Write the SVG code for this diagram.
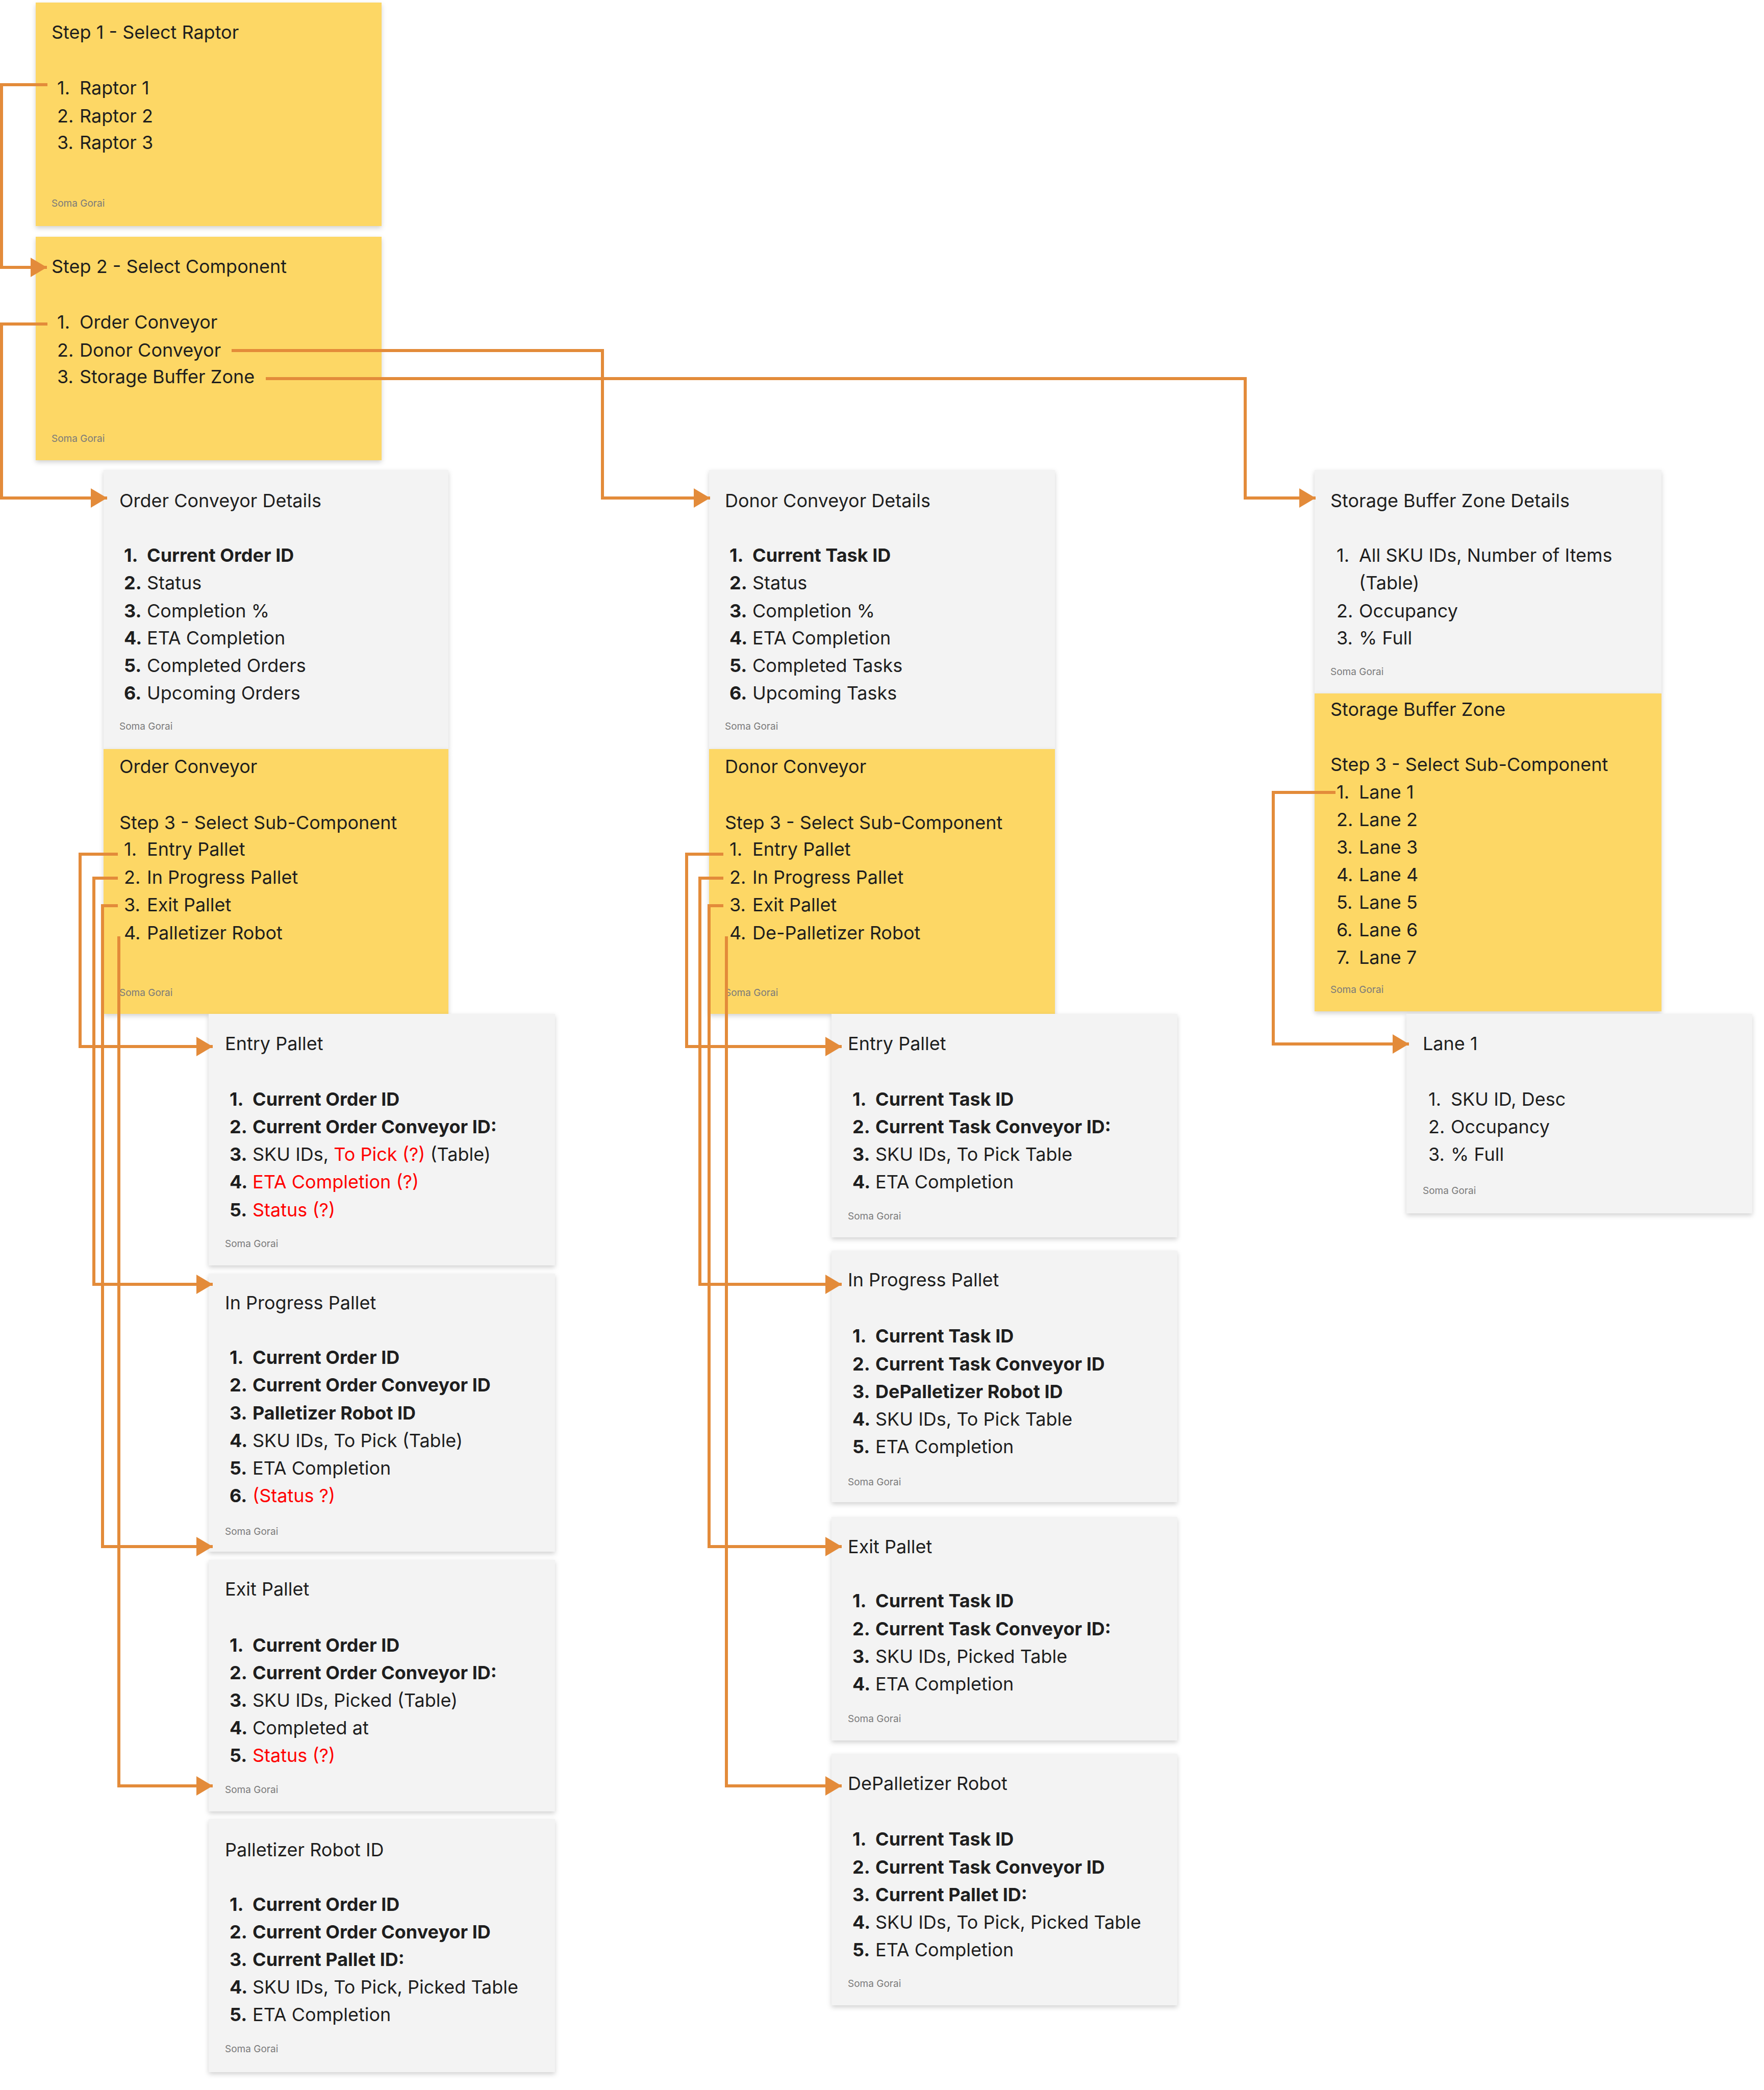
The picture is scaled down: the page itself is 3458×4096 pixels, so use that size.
<svg xmlns="http://www.w3.org/2000/svg" width="3458" height="4096" viewBox="0 0 3458 4096">
<style>
text{font-family:Inter,"Noto Sans","Liberation Sans",sans-serif;fill:#1e1e1e;font-size:36px}
.y{fill:#fdd765}.g{fill:#f3f3f3}
.f{font-size:19px;fill:#7a7a7a}
.b{font-weight:bold}.r{fill:#f00}
.c{fill:none;stroke:#e38b3a;stroke-width:6}
</style>
<defs>
<filter id="sh" x="-5%" y="-5%" width="110%" height="115%"><feDropShadow dx="0" dy="4" stdDeviation="5" flood-color="#000" flood-opacity="0.18"/></filter>
<marker id="a" markerUnits="userSpaceOnUse" markerWidth="32" markerHeight="38" viewBox="0 0 32 38" refX="32" refY="19" orient="auto"><path d="M0,0L32,19L0,38z" fill="#e38b3a"/></marker>
</defs>
<rect width="3458" height="4096" fill="#fff"/>

<g id="step1"><rect class="y" x="70" y="5" width="678" height="438" filter="url(#sh)"/>
<text x="101" y="76">Step 1 - Select Raptor</text>
<text x="112" y="185">1.</text><text x="156" y="185">Raptor 1</text>
<text x="112" y="240">2.</text><text x="156" y="240">Raptor 2</text>
<text x="112" y="292">3.</text><text x="156" y="292">Raptor 3</text>
<text class="f" x="101" y="405">Soma Gorai</text></g>

<g id="step2"><rect class="y" x="70" y="464" width="678" height="438" filter="url(#sh)"/>
<text x="101" y="535">Step 2 - Select Component</text>
<text x="112" y="644">1.</text><text x="156" y="644">Order Conveyor</text>
<text x="112" y="699">2.</text><text x="156" y="699">Donor Conveyor</text>
<text x="112" y="751">3.</text><text x="156" y="751">Storage Buffer Zone</text>
<text class="f" x="101" y="866">Soma Gorai</text></g>

<g id="orderDetails"><rect class="g" x="203" y="921" width="676" height="547" filter="url(#sh)"/>
<text x="234" y="994">Order Conveyor Details</text>
<g class="b"><text x="243" y="1101">1.</text><text x="243" y="1155">2.</text><text x="243" y="1210">3.</text><text x="243" y="1263">4.</text><text x="243" y="1317">5.</text><text x="243" y="1371">6.</text></g>
<text class="b" x="288" y="1101">Current Order ID</text>
<text x="288" y="1155">Status</text><text x="288" y="1210">Completion %</text><text x="288" y="1263">ETA Completion</text><text x="288" y="1317">Completed Orders</text><text x="288" y="1371">Upcoming Orders</text>
<text class="f" x="234" y="1430">Soma Gorai</text></g>

<g id="orderConveyor"><rect class="y" x="203" y="1468" width="676" height="519" filter="url(#sh)"/>
<text x="234" y="1515">Order Conveyor</text>
<text x="234" y="1625">Step 3 - Select Sub-Component</text>
<text x="243" y="1677">1.</text><text x="288" y="1677">Entry Pallet</text>
<text x="243" y="1732">2.</text><text x="288" y="1732">In Progress Pallet</text>
<text x="243" y="1786">3.</text><text x="288" y="1786">Exit Pallet</text>
<text x="243" y="1841">4.</text><text x="288" y="1841">Palletizer Robot</text>
<text class="f" x="234" y="1952">Soma Gorai</text></g>

<g id="oEntry"><rect class="g" x="409" y="1987" width="679" height="493" filter="url(#sh)"/>
<text x="441" y="2058">Entry Pallet</text>
<g class="b"><text x="450" y="2167">1.</text><text x="450" y="2221">2.</text><text x="450" y="2275">3.</text><text x="450" y="2329">4.</text><text x="450" y="2384">5.</text></g>
<text class="b" x="495" y="2167">Current Order ID</text>
<text class="b" x="495" y="2221">Current Order Conveyor ID:</text>
<text x="495" y="2275">SKU IDs, <tspan class="r">To Pick (?)</tspan> (Table)</text>
<text class="r" x="495" y="2329">ETA Completion (?)</text>
<text class="r" x="495" y="2384">Status (?)</text>
<text class="f" x="441" y="2444">Soma Gorai</text></g>

<g id="oProgress"><rect class="g" x="409" y="2496" width="679" height="545" filter="url(#sh)"/>
<text x="441" y="2566">In Progress Pallet</text>
<g class="b"><text x="450" y="2673">1.</text><text x="450" y="2727">2.</text><text x="450" y="2782">3.</text><text x="450" y="2836">4.</text><text x="450" y="2890">5.</text><text x="450" y="2944">6.</text></g>
<text class="b" x="495" y="2673">Current Order ID</text>
<text class="b" x="495" y="2727">Current Order Conveyor ID</text>
<text class="b" x="495" y="2782">Palletizer Robot ID</text>
<text x="495" y="2836">SKU IDs, To Pick (Table)</text>
<text x="495" y="2890">ETA Completion</text>
<text class="r" x="495" y="2944">(Status ?)</text>
<text class="f" x="441" y="3008">Soma Gorai</text></g>

<g id="oExit"><rect class="g" x="409" y="3057" width="679" height="493" filter="url(#sh)"/>
<text x="441" y="3127">Exit Pallet</text>
<g class="b"><text x="450" y="3237">1.</text><text x="450" y="3291">2.</text><text x="450" y="3345">3.</text><text x="450" y="3399">4.</text><text x="450" y="3453">5.</text></g>
<text class="b" x="495" y="3237">Current Order ID</text>
<text class="b" x="495" y="3291">Current Order Conveyor ID:</text>
<text x="495" y="3345">SKU IDs, Picked (Table)</text>
<text x="495" y="3399">Completed at</text>
<text class="r" x="495" y="3453">Status (?)</text>
<text class="f" x="441" y="3514">Soma Gorai</text></g>

<g id="oRobot"><rect class="g" x="409" y="3565" width="679" height="496" filter="url(#sh)"/>
<text x="441" y="3638">Palletizer Robot ID</text>
<g class="b"><text x="450" y="3745">1.</text><text x="450" y="3799">2.</text><text x="450" y="3853">3.</text><text x="450" y="3907">4.</text><text x="450" y="3961">5.</text></g>
<text class="b" x="495" y="3745">Current Order ID</text>
<text class="b" x="495" y="3799">Current Order Conveyor ID</text>
<text class="b" x="495" y="3853">Current Pallet ID:</text>
<text x="495" y="3907">SKU IDs, To Pick, Picked Table</text>
<text x="495" y="3961">ETA Completion</text>
<text class="f" x="441" y="4022">Soma Gorai</text></g>

<g id="donorDetails"><rect class="g" x="1390" y="921" width="678" height="547" filter="url(#sh)"/>
<text x="1421" y="994">Donor Conveyor Details</text>
<g class="b"><text x="1430" y="1101">1.</text><text x="1430" y="1155">2.</text><text x="1430" y="1210">3.</text><text x="1430" y="1263">4.</text><text x="1430" y="1317">5.</text><text x="1430" y="1371">6.</text></g>
<text class="b" x="1475" y="1101">Current Task ID</text>
<text x="1475" y="1155">Status</text><text x="1475" y="1210">Completion %</text><text x="1475" y="1263">ETA Completion</text><text x="1475" y="1317">Completed Tasks</text><text x="1475" y="1371">Upcoming Tasks</text>
<text class="f" x="1421" y="1430">Soma Gorai</text></g>

<g id="donorConveyor"><rect class="y" x="1390" y="1468" width="678" height="519" filter="url(#sh)"/>
<text x="1421" y="1515">Donor Conveyor</text>
<text x="1421" y="1625">Step 3 - Select Sub-Component</text>
<text x="1430" y="1677">1.</text><text x="1475" y="1677">Entry Pallet</text>
<text x="1430" y="1732">2.</text><text x="1475" y="1732">In Progress Pallet</text>
<text x="1430" y="1786">3.</text><text x="1475" y="1786">Exit Pallet</text>
<text x="1430" y="1841">4.</text><text x="1475" y="1841">De-Palletizer Robot</text>
<text class="f" x="1421" y="1952">Soma Gorai</text></g>

<g id="dEntry"><rect class="g" x="1630" y="1987" width="678" height="438" filter="url(#sh)"/>
<text x="1662" y="2058">Entry Pallet</text>
<g class="b"><text x="1671" y="2167">1.</text><text x="1671" y="2221">2.</text><text x="1671" y="2275">3.</text><text x="1671" y="2329">4.</text></g>
<text class="b" x="1716" y="2167">Current Task ID</text>
<text class="b" x="1716" y="2221">Current Task Conveyor ID:</text>
<text x="1716" y="2275">SKU IDs, To Pick Table</text>
<text x="1716" y="2329">ETA Completion</text>
<text class="f" x="1662" y="2390">Soma Gorai</text></g>

<g id="dProgress"><rect class="g" x="1630" y="2451" width="678" height="493" filter="url(#sh)"/>
<text x="1662" y="2521">In Progress Pallet</text>
<g class="b"><text x="1671" y="2631">1.</text><text x="1671" y="2686">2.</text><text x="1671" y="2740">3.</text><text x="1671" y="2794">4.</text><text x="1671" y="2848">5.</text></g>
<text class="b" x="1716" y="2631">Current Task ID</text>
<text class="b" x="1716" y="2686">Current Task Conveyor ID</text>
<text class="b" x="1716" y="2740">DePalletizer Robot ID</text>
<text x="1716" y="2794">SKU IDs, To Pick Table</text>
<text x="1716" y="2848">ETA Completion</text>
<text class="f" x="1662" y="2911">Soma Gorai</text></g>

<g id="dExit"><rect class="g" x="1630" y="2973" width="678" height="438" filter="url(#sh)"/>
<text x="1662" y="3044">Exit Pallet</text>
<g class="b"><text x="1671" y="3150">1.</text><text x="1671" y="3205">2.</text><text x="1671" y="3259">3.</text><text x="1671" y="3313">4.</text></g>
<text class="b" x="1716" y="3150">Current Task ID</text>
<text class="b" x="1716" y="3205">Current Task Conveyor ID:</text>
<text x="1716" y="3259">SKU IDs, Picked Table</text>
<text x="1716" y="3313">ETA Completion</text>
<text class="f" x="1662" y="3375">Soma Gorai</text></g>

<g id="dRobot"><rect class="g" x="1630" y="3437" width="678" height="493" filter="url(#sh)"/>
<text x="1662" y="3508">DePalletizer Robot</text>
<g class="b"><text x="1671" y="3617">1.</text><text x="1671" y="3672">2.</text><text x="1671" y="3726">3.</text><text x="1671" y="3780">4.</text><text x="1671" y="3834">5.</text></g>
<text class="b" x="1716" y="3617">Current Task ID</text>
<text class="b" x="1716" y="3672">Current Task Conveyor ID</text>
<text class="b" x="1716" y="3726">Current Pallet ID:</text>
<text x="1716" y="3780">SKU IDs, To Pick, Picked Table</text>
<text x="1716" y="3834">ETA Completion</text>
<text class="f" x="1662" y="3894">Soma Gorai</text></g>

<g id="storageDetails"><rect class="g" x="2577" y="921" width="680" height="438" filter="url(#sh)"/>
<text x="2608" y="994">Storage Buffer Zone Details</text>
<text x="2620" y="1101">1.</text><text x="2664" y="1101">All SKU IDs, Number of Items</text>
<text x="2664" y="1155">(Table)</text>
<text x="2620" y="1210">2.</text><text x="2664" y="1210">Occupancy</text>
<text x="2620" y="1263">3.</text><text x="2664" y="1263">% Full</text>
<text class="f" x="2608" y="1323">Soma Gorai</text></g>

<g id="storage"><rect class="y" x="2577" y="1359" width="680" height="623" filter="url(#sh)"/>
<text x="2608" y="1403">Storage Buffer Zone</text>
<text x="2608" y="1511">Step 3 - Select Sub-Component</text>
<text x="2620" y="1565">1.</text><text x="2664" y="1565">Lane 1</text>
<text x="2620" y="1619">2.</text><text x="2664" y="1619">Lane 2</text>
<text x="2620" y="1673">3.</text><text x="2664" y="1673">Lane 3</text>
<text x="2620" y="1727">4.</text><text x="2664" y="1727">Lane 4</text>
<text x="2620" y="1781">5.</text><text x="2664" y="1781">Lane 5</text>
<text x="2620" y="1835">6.</text><text x="2664" y="1835">Lane 6</text>
<text x="2620" y="1889">7.</text><text x="2664" y="1889">Lane 7</text>
<text class="f" x="2608" y="1946">Soma Gorai</text></g>

<g id="lane1"><rect class="g" x="2757" y="1987" width="678" height="391" filter="url(#sh)"/>
<text x="2789" y="2058">Lane 1</text>
<text x="2800" y="2167">1.</text><text x="2844" y="2167">SKU ID, Desc</text>
<text x="2800" y="2221">2.</text><text x="2844" y="2221">Occupancy</text>
<text x="2800" y="2275">3.</text><text x="2844" y="2275">% Full</text>
<text class="f" x="2789" y="2340">Soma Gorai</text></g>

<g id="connectors" class="c" marker-end="url(#a)">
<path d="M93,166H3V524H92"/>
<path d="M93,635H3V976H210"/>
<path d="M454,687H1181V976H1392"/>
<path d="M521,742H2441V976H2579"/>
<path d="M231,1674H157V2051H417"/>
<path d="M231,1721H184V2517H417"/>
<path d="M231,1775H201V3031H417"/>
<path d="M233,1835V3500H417"/>
<path d="M1418,1674H1346V2051H1650"/>
<path d="M1418,1721H1372V2517H1650"/>
<path d="M1418,1775H1390V3031H1650"/>
<path d="M1424,1835V3500H1650"/>
<path d="M2618,1553H2496V2046H2762"/>
</g>
</svg>
